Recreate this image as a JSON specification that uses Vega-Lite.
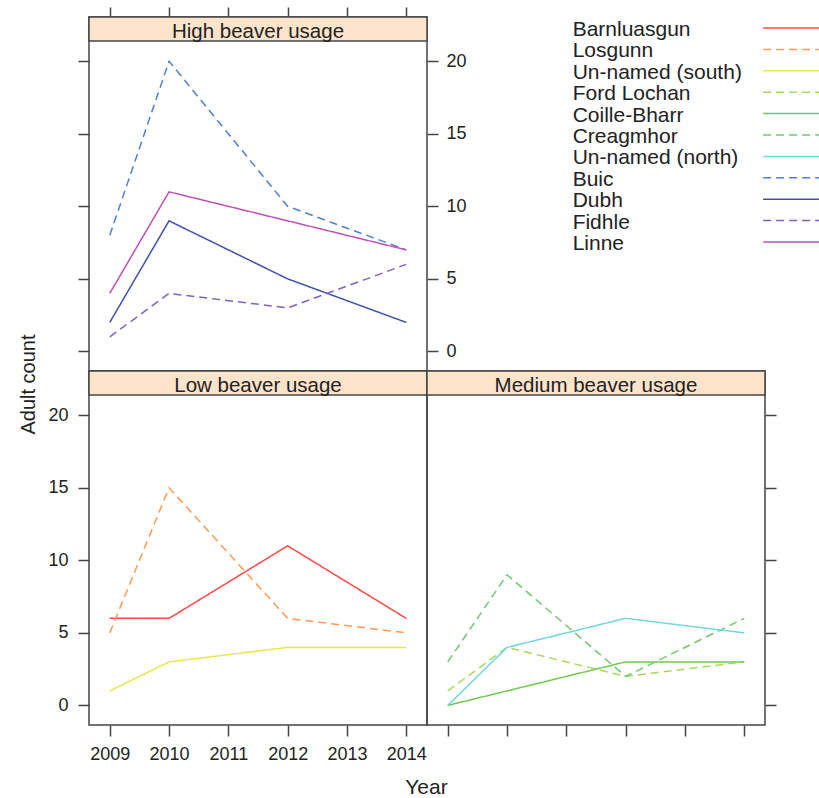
{
  "$schema": "https://vega.github.io/schema/vega-lite/v6.json",
  "padding": {"left": 17, "top": 5, "right": 0, "bottom": 0},
  "background": "white",
  "config": {
    "font": "Liberation Sans",
    "view": {"stroke": "#444", "strokeWidth": 1.5},
    "legend": {"disable": true},
    "axis": {"domain": false, "grid": false, "tickColor": "#444", "tickWidth": 1.5, "tickSize": 11, "labelFont": "Liberation Sans", "labelFontSize": 18, "labelColor": "#222", "titleFont": "Liberation Sans", "titleFontSize": 20, "titleFontWeight": "normal", "titleColor": "#222"},
    "line": {"strokeWidth": 1.5, "strokeCap": "butt"},
    "text": {"font": "Liberation Sans", "color": "#222"}
  },
  "datasets": {
    "counts": [
      {"site": "Barnluasgun", "usage": "Low", "year": 2009, "count": 6},
      {"site": "Barnluasgun", "usage": "Low", "year": 2010, "count": 6},
      {"site": "Barnluasgun", "usage": "Low", "year": 2012, "count": 11},
      {"site": "Barnluasgun", "usage": "Low", "year": 2014, "count": 6},
      {"site": "Losgunn", "usage": "Low", "year": 2009, "count": 5},
      {"site": "Losgunn", "usage": "Low", "year": 2010, "count": 15},
      {"site": "Losgunn", "usage": "Low", "year": 2012, "count": 6},
      {"site": "Losgunn", "usage": "Low", "year": 2014, "count": 5},
      {"site": "Un-named (south)", "usage": "Low", "year": 2009, "count": 1},
      {"site": "Un-named (south)", "usage": "Low", "year": 2010, "count": 3},
      {"site": "Un-named (south)", "usage": "Low", "year": 2012, "count": 4},
      {"site": "Un-named (south)", "usage": "Low", "year": 2014, "count": 4},
      {"site": "Ford Lochan", "usage": "Medium", "year": 2009, "count": 1},
      {"site": "Ford Lochan", "usage": "Medium", "year": 2010, "count": 4},
      {"site": "Ford Lochan", "usage": "Medium", "year": 2012, "count": 2},
      {"site": "Ford Lochan", "usage": "Medium", "year": 2014, "count": 3},
      {"site": "Coille-Bharr", "usage": "Medium", "year": 2009, "count": 0},
      {"site": "Coille-Bharr", "usage": "Medium", "year": 2010, "count": 1},
      {"site": "Coille-Bharr", "usage": "Medium", "year": 2012, "count": 3},
      {"site": "Coille-Bharr", "usage": "Medium", "year": 2014, "count": 3},
      {"site": "Creagmhor", "usage": "Medium", "year": 2009, "count": 3},
      {"site": "Creagmhor", "usage": "Medium", "year": 2010, "count": 9},
      {"site": "Creagmhor", "usage": "Medium", "year": 2012, "count": 2},
      {"site": "Creagmhor", "usage": "Medium", "year": 2014, "count": 6},
      {"site": "Un-named (north)", "usage": "Medium", "year": 2009, "count": 0},
      {"site": "Un-named (north)", "usage": "Medium", "year": 2010, "count": 4},
      {"site": "Un-named (north)", "usage": "Medium", "year": 2012, "count": 6},
      {"site": "Un-named (north)", "usage": "Medium", "year": 2014, "count": 5},
      {"site": "Buic", "usage": "High", "year": 2009, "count": 8},
      {"site": "Buic", "usage": "High", "year": 2010, "count": 20},
      {"site": "Buic", "usage": "High", "year": 2012, "count": 10},
      {"site": "Buic", "usage": "High", "year": 2014, "count": 7},
      {"site": "Dubh", "usage": "High", "year": 2009, "count": 2},
      {"site": "Dubh", "usage": "High", "year": 2010, "count": 9},
      {"site": "Dubh", "usage": "High", "year": 2012, "count": 5},
      {"site": "Dubh", "usage": "High", "year": 2014, "count": 2},
      {"site": "Fidhle", "usage": "High", "year": 2009, "count": 1},
      {"site": "Fidhle", "usage": "High", "year": 2010, "count": 4},
      {"site": "Fidhle", "usage": "High", "year": 2012, "count": 3},
      {"site": "Fidhle", "usage": "High", "year": 2014, "count": 6},
      {"site": "Linne", "usage": "High", "year": 2009, "count": 4},
      {"site": "Linne", "usage": "High", "year": 2010, "count": 11},
      {"site": "Linne", "usage": "High", "year": 2012, "count": 9},
      {"site": "Linne", "usage": "High", "year": 2014, "count": 7}
    ],
    "sites": [
      {"site": "Barnluasgun"}, {"site": "Losgunn"}, {"site": "Un-named (south)"}, {"site": "Ford Lochan"},
      {"site": "Coille-Bharr"}, {"site": "Creagmhor"}, {"site": "Un-named (north)"}, {"site": "Buic"},
      {"site": "Dubh"}, {"site": "Fidhle"}, {"site": "Linne"}
    ]
  },
  "columns": 2,
  "spacing": 0,
  "bounds": "flush",
  "align": "each",
  "concat": [
    {
      "width": 338, "height": 354,
      "resolve": {"axis": {"y": "independent"}},
      "layer": [
        {
          "data": {"values": [{"label": "High beaver usage"}]},
          "mark": {"type": "rect", "fill": "#ffe4cc", "stroke": "#444", "strokeWidth": 1.5},
          "encoding": {
            "x": {"datum": 2008.65, "type": "quantitative", "scale": {"domain": [2008.65, 2014.35], "nice": false, "zero": false}, "axis": {"orient": "top", "values": [2009, 2010, 2011, 2012, 2013, 2014], "labels": false, "tickSize": 10, "title": null}},
            "x2": {"datum": 2014.35},
            "y": {"datum": 21.4, "type": "quantitative", "scale": {"domain": [-1.35, 23.05], "nice": false, "zero": false}, "axis": {"orient": "left", "values": [0, 5, 10, 15, 20], "labels": false, "title": null}},
            "y2": {"datum": 23.05}
          }
        },
        {
          "data": {"values": [{"label": "High beaver usage"}]},
          "mark": {"type": "text", "fontSize": 20.5, "baseline": "alphabetic"},
          "encoding": {
            "x": {"datum": 2011.5, "type": "quantitative"},
            "y": {"datum": 21.6, "type": "quantitative", "axis": null},
            "text": {"field": "label"}
          }
        },
        {
          "data": {"name": "counts"},
          "transform": [{"filter": "datum.usage === 'High'"}],
          "mark": {"type": "line"},
          "encoding": {
            "x": {"field": "year", "type": "quantitative"},
            "y": {"field": "count", "type": "quantitative", "axis": null},
            "color": {"field": "site", "type": "nominal", "scale": {"domain": ["Barnluasgun", "Losgunn", "Un-named (south)", "Ford Lochan", "Coille-Bharr", "Creagmhor", "Un-named (north)", "Buic", "Dubh", "Fidhle", "Linne"], "range": ["#ff4848", "#ff9a55", "#e8e84a", "#a8d860", "#70c850", "#70c870", "#74d4e0", "#5080d0", "#4050a8", "#8060c0", "#c050b8"]}},
            "strokeDash": {"field": "site", "type": "nominal", "scale": {"domain": ["Barnluasgun", "Losgunn", "Un-named (south)", "Ford Lochan", "Coille-Bharr", "Creagmhor", "Un-named (north)", "Buic", "Dubh", "Fidhle", "Linne"], "range": [[1, 0], [8, 5], [1, 0], [8, 5], [1, 0], [8, 5], [1, 0], [8, 5], [1, 0], [8, 5], [1, 0]]}}
          }
        },
        {
          "data": {"name": "counts"},
          "transform": [{"filter": "datum.usage === 'High'"}],
          "mark": {"type": "line", "opacity": 0},
          "encoding": {
            "x": {"field": "year", "type": "quantitative"},
            "y": {"field": "count", "type": "quantitative", "axis": {"orient": "right", "values": [0, 5, 10, 15, 20], "labelPadding": 8, "title": null}},
            "detail": {"field": "site"}
          }
        }
      ]
    },
    {
      "width": 392, "height": 354,
      "view": {"stroke": null},
      "data": {"name": "sites"},
      "layer": [
        {
          "mark": {"type": "text", "align": "left", "baseline": "alphabetic", "dy": 8, "fontSize": 21},
          "encoding": {
            "x": {"datum": 0.3715, "type": "quantitative", "scale": {"domain": [0, 1], "nice": false}, "axis": null},
            "y": {"field": "site", "type": "nominal", "scale": {"type": "point", "domain": ["Barnluasgun", "Losgunn", "Un-named (south)", "Ford Lochan", "Coille-Bharr", "Creagmhor", "Un-named (north)", "Buic", "Dubh", "Fidhle", "Linne"], "range": [11, 225], "padding": 0}, "axis": null},
            "text": {"field": "site"}
          }
        },
        {
          "mark": {"type": "rule", "strokeWidth": 1.5},
          "encoding": {
            "x": {"datum": 0.8575, "type": "quantitative"},
            "x2": {"datum": 1},
            "y": {"field": "site", "type": "nominal"},
            "color": {"field": "site", "type": "nominal", "scale": {"domain": ["Barnluasgun", "Losgunn", "Un-named (south)", "Ford Lochan", "Coille-Bharr", "Creagmhor", "Un-named (north)", "Buic", "Dubh", "Fidhle", "Linne"], "range": ["#ff4848", "#ff9a55", "#e8e84a", "#a8d860", "#70c850", "#70c870", "#74d4e0", "#5080d0", "#4050a8", "#8060c0", "#c050b8"]}},
            "strokeDash": {"field": "site", "type": "nominal", "scale": {"domain": ["Barnluasgun", "Losgunn", "Un-named (south)", "Ford Lochan", "Coille-Bharr", "Creagmhor", "Un-named (north)", "Buic", "Dubh", "Fidhle", "Linne"], "range": [[1, 0], [8, 5], [1, 0], [8, 5], [1, 0], [8, 5], [1, 0], [8, 5], [1, 0], [8, 5], [1, 0]]}}
          }
        }
      ]
    },
    {
      "width": 338, "height": 354,
      "layer": [
        {
          "data": {"values": [{"label": "Low beaver usage"}]},
          "mark": {"type": "rect", "fill": "#ffe4cc", "stroke": "#444", "strokeWidth": 1.5},
          "encoding": {
            "x": {"datum": 2008.65, "type": "quantitative", "scale": {"domain": [2008.65, 2014.35], "nice": false, "zero": false}, "axis": {"orient": "bottom", "values": [2009, 2010, 2011, 2012, 2013, 2014], "format": "d", "labelPadding": 9, "title": "Year", "titleFontSize": 21, "titleX": 337, "titleY": 68, "titleBaseline": "alphabetic", "titleAlign": "center"}},
            "x2": {"datum": 2014.35},
            "y": {"datum": 21.4, "type": "quantitative", "scale": {"domain": [-1.35, 23.05], "nice": false, "zero": false}, "axis": {"orient": "left", "values": [0, 5, 10, 15, 20], "labelPadding": 10, "title": "Adult count", "titleX": -55, "titleY": 13, "titleAngle": 270, "titleBaseline": "alphabetic", "titleAlign": "center"}},
            "y2": {"datum": 23.05}
          }
        },
        {
          "data": {"values": [{"label": "Low beaver usage"}]},
          "mark": {"type": "text", "fontSize": 20.5, "baseline": "alphabetic"},
          "encoding": {
            "x": {"datum": 2011.5, "type": "quantitative"},
            "y": {"datum": 21.6, "type": "quantitative"},
            "text": {"field": "label"}
          }
        },
        {
          "data": {"name": "counts"},
          "transform": [{"filter": "datum.usage === 'Low'"}],
          "mark": {"type": "line"},
          "encoding": {
            "x": {"field": "year", "type": "quantitative"},
            "y": {"field": "count", "type": "quantitative"},
            "color": {"field": "site", "type": "nominal", "scale": {"domain": ["Barnluasgun", "Losgunn", "Un-named (south)", "Ford Lochan", "Coille-Bharr", "Creagmhor", "Un-named (north)", "Buic", "Dubh", "Fidhle", "Linne"], "range": ["#ff4848", "#ff9a55", "#e8e84a", "#a8d860", "#70c850", "#70c870", "#74d4e0", "#5080d0", "#4050a8", "#8060c0", "#c050b8"]}},
            "strokeDash": {"field": "site", "type": "nominal", "scale": {"domain": ["Barnluasgun", "Losgunn", "Un-named (south)", "Ford Lochan", "Coille-Bharr", "Creagmhor", "Un-named (north)", "Buic", "Dubh", "Fidhle", "Linne"], "range": [[1, 0], [8, 5], [1, 0], [8, 5], [1, 0], [8, 5], [1, 0], [8, 5], [1, 0], [8, 5], [1, 0]]}}
          }
        }
      ]
    },
    {
      "width": 338, "height": 354,
      "layer": [
        {
          "data": {"values": [{"label": "Medium beaver usage"}]},
          "mark": {"type": "rect", "fill": "#ffe4cc", "stroke": "#444", "strokeWidth": 1.5},
          "encoding": {
            "x": {"datum": 2008.65, "type": "quantitative", "scale": {"domain": [2008.65, 2014.35], "nice": false, "zero": false}, "axis": {"orient": "bottom", "values": [2009, 2010, 2011, 2012, 2013, 2014], "labels": false, "title": null}},
            "x2": {"datum": 2014.35},
            "y": {"datum": 21.4, "type": "quantitative", "scale": {"domain": [-1.35, 23.05], "nice": false, "zero": false}, "axis": {"orient": "right", "values": [0, 5, 10, 15, 20], "labels": false, "title": null}},
            "y2": {"datum": 23.05}
          }
        },
        {
          "data": {"values": [{"label": "Medium beaver usage"}]},
          "mark": {"type": "text", "fontSize": 20.5, "baseline": "alphabetic"},
          "encoding": {
            "x": {"datum": 2011.5, "type": "quantitative"},
            "y": {"datum": 21.6, "type": "quantitative"},
            "text": {"field": "label"}
          }
        },
        {
          "data": {"name": "counts"},
          "transform": [{"filter": "datum.usage === 'Medium'"}],
          "mark": {"type": "line"},
          "encoding": {
            "x": {"field": "year", "type": "quantitative"},
            "y": {"field": "count", "type": "quantitative"},
            "color": {"field": "site", "type": "nominal", "scale": {"domain": ["Barnluasgun", "Losgunn", "Un-named (south)", "Ford Lochan", "Coille-Bharr", "Creagmhor", "Un-named (north)", "Buic", "Dubh", "Fidhle", "Linne"], "range": ["#ff4848", "#ff9a55", "#e8e84a", "#a8d860", "#70c850", "#70c870", "#74d4e0", "#5080d0", "#4050a8", "#8060c0", "#c050b8"]}},
            "strokeDash": {"field": "site", "type": "nominal", "scale": {"domain": ["Barnluasgun", "Losgunn", "Un-named (south)", "Ford Lochan", "Coille-Bharr", "Creagmhor", "Un-named (north)", "Buic", "Dubh", "Fidhle", "Linne"], "range": [[1, 0], [8, 5], [1, 0], [8, 5], [1, 0], [8, 5], [1, 0], [8, 5], [1, 0], [8, 5], [1, 0]]}}
          }
        }
      ]
    }
  ]
}
